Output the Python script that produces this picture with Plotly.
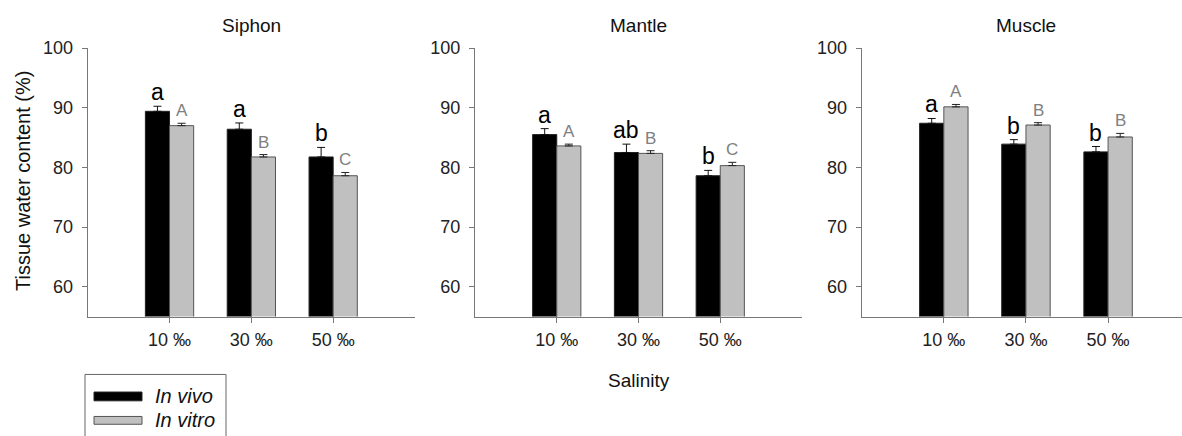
import plotly.graph_objects as go

W, H = 1182, 436

categories = ["10 ‰", "30 ‰", "50 ‰"]
tissues = ["Siphon", "Mantle", "Muscle"]

invivo_mean = {
    "Siphon": [89.4, 86.4, 81.75],
    "Mantle": [85.5, 82.5, 78.6],
    "Muscle": [87.4, 83.9, 82.6],
}
invivo_se = {
    "Siphon": [0.85, 1.05, 1.6],
    "Mantle": [1.0, 1.4, 0.9],
    "Muscle": [0.8, 0.75, 0.9],
}
invitro_mean = {
    "Siphon": [87.0, 81.75, 78.6],
    "Mantle": [83.6, 82.35, 80.3],
    "Muscle": [90.15, 87.1, 85.1],
}
invitro_se = {
    "Siphon": [0.4, 0.4, 0.55],
    "Mantle": [0.3, 0.45, 0.55],
    "Muscle": [0.4, 0.4, 0.6],
}
invivo_letters = {
    "Siphon": ["a", "a", "b"],
    "Mantle": ["a", "ab", "b"],
    "Muscle": ["a", "b", "b"],
}
invitro_letters = {
    "Siphon": ["A", "B", "C"],
    "Mantle": ["A", "B", "C"],
    "Muscle": ["A", "B", "B"],
}

def px(x):
    return x / W

def py(y):
    return 1 - y / H

ydom = [py(313.7), py(39)]
xdoms = [[px(87.7), px(415)], [px(475), px(802)], [px(861.7), 1.0]]
xranges = [[-1, 3], [-1, 3], [-1, 2.9]]

FONT = "Liberation Sans, Arial, sans-serif"
AXC = "#777777"

fig = go.Figure()
annotations = []
BAR_W = 0.295

for i, t in enumerate(tissues):
    xa = "x" if i == 0 else f"x{i+1}"
    ya = "y" if i == 0 else f"y{i+1}"
    fig.add_trace(go.Bar(
        x=categories, y=invivo_mean[t], xaxis=xa, yaxis=ya,
        name="In vivo", offsetgroup="vivo", showlegend=False,
        marker=dict(color="#000000", line=dict(color="#222222", width=1)),
        error_y=dict(type="data", array=invivo_se[t], arrayminus=[0, 0, 0],
                     symmetric=False, color="#111111", thickness=1, width=4),
    ))
    fig.add_trace(go.Bar(
        x=categories, y=invitro_mean[t], xaxis=xa, yaxis=ya,
        name="In vitro", offsetgroup="vitro", showlegend=False,
        marker=dict(color="#c0c0c0", line=dict(color="#555555", width=1)),
        error_y=dict(type="data", array=invitro_se[t], arrayminus=[0, 0, 0],
                     symmetric=False, color="#222222", thickness=1, width=4),
    ))
    # letters
    for j in range(len(categories)):
        annotations.append(dict(
            x=j - BAR_W / 2, y=invivo_mean[t][j] + invivo_se[t][j],
            xref=xa, yref=ya, text=invivo_letters[t][j], showarrow=False,
            yanchor="bottom", yshift=-1,
            font=dict(family=FONT, size=23, color="#000000"),
        ))
        annotations.append(dict(
            x=j + BAR_W / 2, y=invitro_mean[t][j] + invitro_se[t][j],
            xref=xa, yref=ya, text=invitro_letters[t][j], showarrow=False,
            yanchor="bottom", yshift=1,
            font=dict(family=FONT, size=17, color="#808080"),
        ))
    # panel title
    annotations.append(dict(
        x=1, y=py(16), xref=xa, yref="paper", text=t, showarrow=False,
        xanchor="center", yanchor="middle",
        font=dict(family=FONT, size=19, color="#111111"),
    ))
    axis_common = dict(showline=True, linecolor=AXC, linewidth=1,
                       ticks="outside", ticklen=5, tickcolor=AXC,
                       showgrid=False, zeroline=False,
                       tickfont=dict(family=FONT, size=18, color="#222222"))
    fig.update_layout(**{
        ("xaxis" if i == 0 else f"xaxis{i+1}"): dict(
            domain=xdoms[i], range=xranges[i], anchor=ya, type="category",
            categoryorder="array", categoryarray=categories,
            ticklabelstandoff=2, **axis_common),
        ("yaxis" if i == 0 else f"yaxis{i+1}"): dict(
            domain=ydom, range=[55, 100], anchor=xa,
            tickvals=[60, 70, 80, 90, 100], ticklabelstandoff=5,
            **axis_common),
    })

# axis titles
annotations.append(dict(
    x=px(23), y=py(175), xref="paper", yref="paper",
    text="Tissue water content (%)", textangle=-90, showarrow=False,
    xanchor="center", yanchor="middle",
    font=dict(family=FONT, size=20, color="#111111"),
))
annotations.append(dict(
    x=px(639), y=py(379), xref="paper", yref="paper",
    text="Salinity", showarrow=False, xanchor="center", yanchor="middle",
    font=dict(family=FONT, size=19, color="#111111"),
))
# legend (drawn manually)
shapes = [
    dict(type="rect", xref="paper", yref="paper",
         x0=px(85), x1=px(226), y0=py(450), y1=py(373),
         line=dict(color="#666666", width=1), fillcolor="rgba(0,0,0,0)"),
    dict(type="rect", xref="paper", yref="paper",
         x0=px(94), x1=px(142), y0=py(400), y1=py(391),
         line=dict(color="#222222", width=1), fillcolor="#000000"),
    dict(type="rect", xref="paper", yref="paper",
         x0=px(94), x1=px(142), y0=py(424), y1=py(416),
         line=dict(color="#555555", width=1), fillcolor="#c0c0c0"),
]
annotations.append(dict(
    x=px(153), y=py(395), xref="paper", yref="paper", text="<i>In vivo</i>",
    showarrow=False, xanchor="left", yanchor="middle",
    font=dict(family=FONT, size=20, color="#111111"),
))
annotations.append(dict(
    x=px(153), y=py(420), xref="paper", yref="paper", text="<i>In vitro</i>",
    showarrow=False, xanchor="left", yanchor="middle",
    font=dict(family=FONT, size=20, color="#111111"),
))

fig.update_layout(
    width=W, height=H,
    margin=dict(l=0, r=0, t=0, b=0),
    paper_bgcolor="white", plot_bgcolor="white",
    barmode="group", bargap=0.41, bargroupgap=0,
    showlegend=False,
    annotations=annotations, shapes=shapes,
    font=dict(family=FONT, color="#111111"),
)

fig.write_html("out.html")
